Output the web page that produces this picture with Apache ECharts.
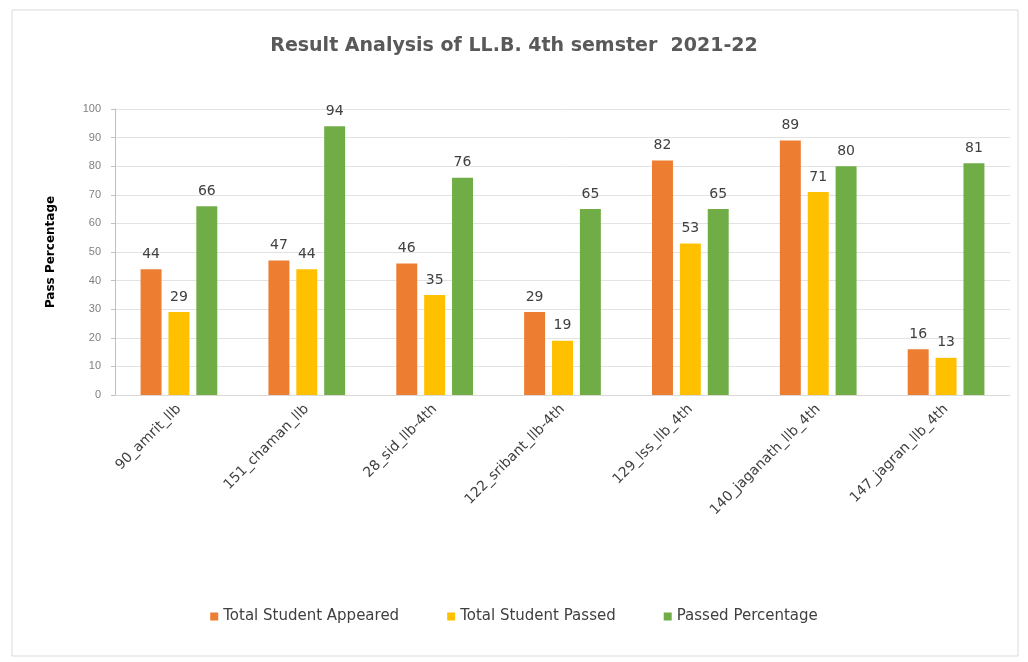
<!DOCTYPE html>
<html>
<head>
<meta charset="utf-8">
<script src="https://cdn.jsdelivr.net/npm/echarts@6/dist/echarts.min.js"></script>
<style>
html,body{margin:0;padding:0;background:#fff;}
#c{width:1028px;height:662px;}
</style>
</head>
<body>
<div id="c"></div>
<script>
const categories = ['90_amrit_llb','151_chaman_llb','28_sid_llb-4th','122_sribant_llb-4th','129_lss_llb_4th','140_jaganath_llb_4th','147_jagran_llb_4th'];
const appeared = [44, 47, 46, 29, 82, 89, 16];
const passed = [29, 44, 35, 19, 53, 71, 13];
const percentage = [66, 94, 76, 65, 65, 80, 81];
const yTicks = {min: 0, max: 100, interval: 10};

const FONT = '"DejaVu Sans", sans-serif';
const chart = echarts.init(document.getElementById('c'), null, {renderer: 'canvas'});
const lbl = {show: true, position: 'top', color: '#404040', fontSize: 14, fontFamily: FONT, distance: 8};
chart.setOption({
  backgroundColor: '#fff',
  animation: false,
  graphic: [{
    type: 'rect', shape: {x: 12, y: 10, width: 1006, height: 646},
    style: {fill: 'none', stroke: '#d9d9d9', lineWidth: 1}
  }],
  title: {
    text: 'Result Analysis of LL.B. 4th semster  2021-22',
    left: 'center', top: 32,
    textStyle: {fontSize: 19, fontWeight: 'bold', color: '#595959', fontFamily: FONT}
  },
  legend: {
    bottom: 33, left: 'center', itemWidth: 8, itemHeight: 8, itemGap: 48,
    icon: 'rect',
    textStyle: {fontSize: 15, color: '#404040', fontFamily: FONT}
  },
  grid: {left: 115, right: 18, top: 109, bottom: 267},
  xAxis: {
    type: 'category', data: categories,
    axisLine: {lineStyle: {color: '#d9d9d9'}},
    axisTick: {show: false},
    axisLabel: {rotate: 45, fontSize: 14, color: '#404040', fontFamily: FONT, interval: 0, margin: 12}
  },
  yAxis: {
    type: 'value', min: yTicks.min, max: yTicks.max, interval: yTicks.interval,
    name: 'Pass Percentage', nameLocation: 'middle', nameGap: 58,
    nameTextStyle: {fontSize: 12, fontWeight: 'bold', color: '#000', fontFamily: FONT},
    axisLine: {show: true, lineStyle: {color: '#bfbfbf'}},
    axisTick: {show: true, length: 4, lineStyle: {color: '#bfbfbf'}},
    axisLabel: {fontSize: 11, color: '#7f7f7f', fontFamily: 'Liberation Sans, sans-serif', margin: 14},
    splitLine: {lineStyle: {color: '#e3e3e3'}}
  },
  series: [
    {name: 'Total Student Appeared', type: 'bar', data: appeared, itemStyle: {color: '#ED7D31'}, label: lbl, barGap: '33%', barCategoryGap: '40%'},
    {name: 'Total Student Passed', type: 'bar', data: passed, itemStyle: {color: '#FFC000'}, label: lbl, barGap: '33%', barCategoryGap: '40%'},
    {name: 'Passed Percentage', type: 'bar', data: percentage, itemStyle: {color: '#70AD47'}, label: lbl, barGap: '33%', barCategoryGap: '40%'}
  ]
});
</script>
</body>
</html>
